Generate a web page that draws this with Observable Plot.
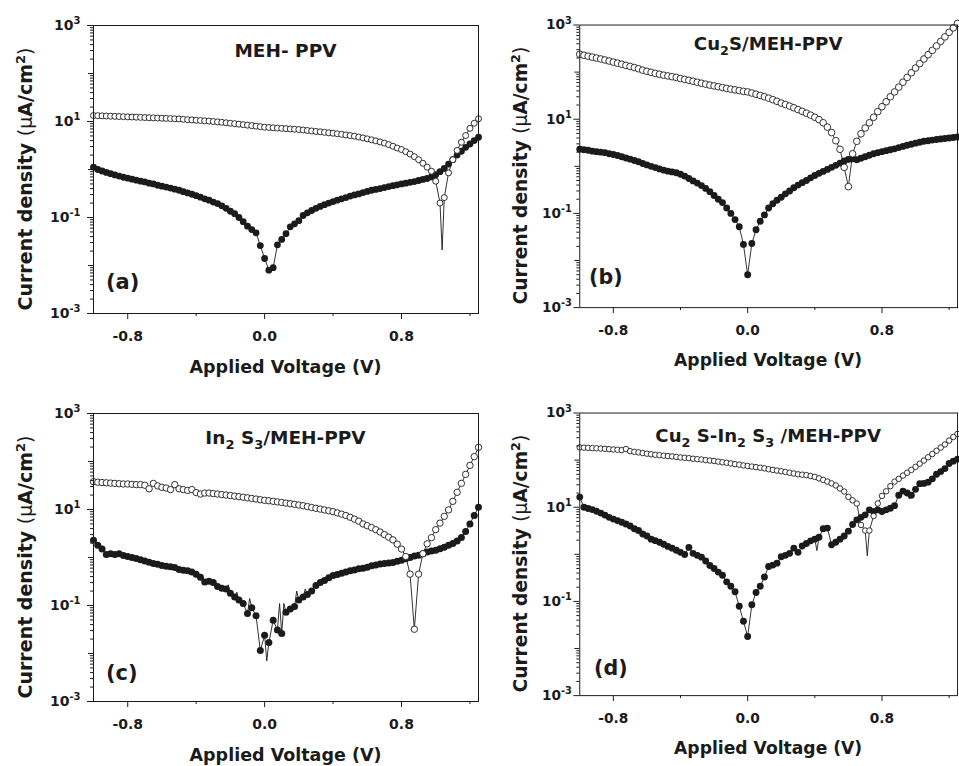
<!DOCTYPE html>
<html>
<head>
<meta charset="utf-8">
<script src="https://cdn.jsdelivr.net/npm/d3@7"></script>
<script src="https://cdn.jsdelivr.net/npm/@observablehq/plot@0.6"></script>
<style>
html, body { margin: 0; padding: 0; background: #fff; overflow: hidden; }
#wrap { position: relative; width: 959px; height: 766px; overflow: hidden; background: #fff; }
.panel { position: absolute; }
</style>
</head>
<body>
<div id="wrap"></div>
<script>
// ---- Voltage sweep (V): -1.0 V to 1.25 V in 25 mV steps ----
const voltageStart = -1.0, voltageStep = 0.025, voltageCount = 91;
const voltage = d3.range(voltageCount).map(i => +(voltageStart + i * voltageStep).toFixed(4));

// ---- Axis ticks ----
const xTicksMajor = [-0.8, 0, 0.8];
const xTicksMinor = [-0.4, 0.4, 1.2];
const yTicksLabeled = [1e-3, 1e-1, 1e1, 1e3];
const yTicksDecade = [1e-2, 1e0, 1e2];
const yTicksMinor = [-3, -2, -1, 0, 1, 2].flatMap(e => [2, 3, 4, 5, 6, 7, 8, 9].map(k => k * Math.pow(10, e)));

// ---- Current density (µA/cm²), panel (a) MEH-PPV ----
const darkA = [
  1.12,1.0,0.93,0.87,0.82,0.77,0.73,0.69,0.66,0.63,
  0.6,0.57,0.55,0.52,0.5,0.47,0.45,0.43,0.41,0.39,
  0.37,0.345,0.325,0.305,0.285,0.265,0.245,0.23,0.21,0.195,
  0.175,0.155,0.135,0.12,0.1,0.082,0.066,0.056,0.048,0.026,
  0.014,0.008,0.009,0.027,0.035,0.046,0.064,0.074,0.086,0.11,
  0.125,0.14,0.155,0.17,0.185,0.2,0.215,0.23,0.245,0.26,
  0.28,0.295,0.31,0.33,0.35,0.37,0.385,0.4,0.42,0.44,
  0.46,0.48,0.5,0.52,0.54,0.56,0.59,0.62,0.65,0.7,
  0.78,0.9,1.05,1.3,1.6,2.0,2.4,2.9,3.4,4.0,
  4.7];
const lightA = [
  13.3,13.2,13.1,13.0,12.9,12.8,12.7,12.6,12.5,12.4,
  12.3,12.2,12.1,12.0,11.9,11.8,11.7,11.6,11.5,11.4,
  11.3,11.1,10.9,10.8,10.6,10.5,10.3,10.2,10.0,9.8,
  9.6,9.4,9.2,9.0,8.8,8.6,8.4,8.2,8.0,7.8,
  7.6,7.5,7.4,7.3,7.2,7.1,7.0,6.9,6.8,6.65,
  6.5,6.35,6.2,6.1,5.95,5.8,5.7,5.55,5.4,5.25,
  5.1,4.95,4.75,4.55,4.35,4.15,3.95,3.75,3.55,3.3,
  3.05,2.8,2.6,2.35,2.1,1.85,1.6,1.35,1.12,0.92,
  0.57,0.20,0.26,0.85,1.6,2.5,3.7,5.1,7.2,9.2,
  11.4];
const darkAExtra = [];
const lightAExtra = [[1.0375, 0.021]];

// ---- panel (b) Cu2S/MEH-PPV ----
const darkB = [
  2.3,2.25,2.2,2.1,2.05,2.0,1.95,1.85,1.78,1.7,
  1.6,1.5,1.42,1.33,1.25,1.15,1.07,1.0,0.94,0.88,
  0.83,0.79,0.76,0.73,0.68,0.62,0.55,0.49,0.44,0.39,
  0.34,0.29,0.24,0.2,0.17,0.13,0.1,0.074,0.052,0.022,
  0.005,0.023,0.045,0.068,0.093,0.13,0.16,0.19,0.22,0.26,
  0.3,0.35,0.4,0.45,0.5,0.57,0.64,0.71,0.78,0.86,
  0.95,1.05,1.17,1.3,1.4,1.45,1.38,1.48,1.6,1.72,
  1.85,1.95,2.05,2.15,2.25,2.35,2.5,2.65,2.8,2.95,
  3.1,3.25,3.4,3.5,3.6,3.7,3.8,3.9,4.0,4.1,
  4.2];
const lightB = [
  240,228,218,208,199,190,181,172,163,155,
  147,139,132,125,118,110,104,99,94,90,
  86,83,80,77,73,70,67,64,61,58,
  55.5,53,51,49,47,45,43.5,42,40.5,39,
  38,36,34,32,30,28,26,24,22,20.5,
  19,17.5,16,14.7,13.4,12.2,11,9.8,8.4,6.8,
  5.2,3.5,2.3,0.95,0.37,1.85,3.4,4.9,6.5,8.4,
  11,14.5,18.5,23.5,30,38,48,61,77,97,
  122,152,190,235,290,360,450,560,700,870,
  1080];
const darkBExtra = [];
const lightBExtra = [];

// ---- panel (c) In2S3/MEH-PPV ----
const darkC = [
  2.3,1.8,1.5,1.15,1.2,1.15,1.2,1.1,1.05,1.0,
  0.95,0.9,0.85,0.8,0.75,0.72,0.68,0.66,0.64,0.62,
  0.56,0.54,0.53,0.5,0.45,0.39,0.31,0.32,0.3,0.25,
  0.23,0.22,0.18,0.15,0.13,0.11,0.068,0.09,0.061,0.0115,
  0.024,0.017,0.049,0.031,0.026,0.072,0.085,0.095,0.13,0.15,
  0.17,0.2,0.26,0.3,0.33,0.38,0.42,0.44,0.47,0.5,
  0.53,0.55,0.58,0.6,0.63,0.67,0.7,0.73,0.75,0.77,
  0.79,0.84,0.88,0.94,1.0,1.07,1.12,1.2,1.3,1.36,
  1.42,1.52,1.64,1.8,1.95,2.2,2.6,3.5,5.0,7.5,
  11.2];
const lightC = [
  38,37,36.5,36,35.5,35,34.5,34,34,33.5,
  33,33,32,27,35,31,29,28,26,33,
  27,26,25,26,22.5,21,22,22,21.5,21,
  20.5,20,19.5,19,18.5,18,17.5,17,16.5,16,
  15.5,15.2,14.8,14.4,14,13.6,13.2,12.8,12.4,12,
  11.5,11,10.6,10.2,9.8,9.4,9.0,8.5,8.0,7.5,
  6.9,6.3,5.7,5.0,4.6,4.2,3.8,3.4,3.0,2.65,
  2.33,1.9,1.5,1.05,0.45,0.032,0.45,1.2,1.93,2.6,
  3.8,5.2,7.2,9.8,14.8,22.8,35,54,83,126,
  198];
const darkCExtra = [[-0.2125,0.27],[-0.1625,0.19],[-0.0875,0.14],[0.0125,0.007],[0.0875,0.11],[0.1125,0.11],[0.1875,0.2],[0.2375,0.22]];
const lightCExtra = [];

// ---- panel (d) Cu2S-In2S3/MEH-PPV ----
const darkD = [
  16.4,10,9.4,8.9,8.2,7.5,6.8,6.1,5.6,5.2,
  4.8,4.4,4.0,3.5,3.2,2.7,2.45,2.1,1.95,1.8,
  1.64,1.47,1.35,1.22,1.1,0.99,1.4,1.05,0.95,0.87,
  0.72,0.58,0.5,0.42,0.36,0.26,0.21,0.16,0.079,0.038,
  0.018,0.085,0.155,0.21,0.33,0.55,0.59,0.65,0.89,0.95,
  1.05,1.35,1.1,1.5,1.7,1.93,2.1,2.3,3.5,3.6,
  1.6,1.8,2.1,2.45,3.1,4.3,5.4,6.1,6.9,8.8,
  8.1,8.8,8.1,8.8,9.5,10.8,18,22,20,18,
  24,31.6,32,34,40,50,57,66,85,95,
  105];
const lightD = [
  186,184,182,180,178,176,174,171,168,166,
  163,172,155,150,146,141,137,133,130,127,
  124,122,120,117,114,112,110,107,105,103,
  100,98,96,93,90,88,85,82,80,77,
  75,73,71,69,67,64,62,60,58,56,
  54,52,50,49,48,46,44,41,38,35,
  32,29,25,21.5,16.6,14,12,4.2,3.2,3.2,
  6.5,12,17.4,21.8,28,35,40,47,54,62,
  72,84,98,115,135,158,185,215,260,310,
  360];
const darkDExtra = [[0.4125, 1.2], [0.9625, 15]];
const lightDExtra = [[0.7125, 0.93]];

// ---- Texts ----
const xLabel = "Applied Voltage (V)";
const titleA = [["MEH- PPV"]];
const titleB = [["Cu"], ["2", "sub"], ["S/MEH-PPV"]];
const titleC = [["In"], ["2", "sub"], [" S"], ["3", "sub"], ["/MEH-PPV"]];
const titleD = [["Cu"], ["2", "sub"], [" S-In"], ["2", "sub"], [" S"], ["3", "sub"], [" /MEH-PPV"]];

const INK = "#1b1b1b";
const FONT = "'DejaVu Sans', 'Liberation Sans', sans-serif";

function pts(vals) {
  return vals.slice(0, voltage.length).map((j, i) => ({v: voltage[i], j}));
}
function linePts(vals, extra) {
  return pts(vals).concat(extra.map(([v, j]) => ({v, j}))).sort((a, b) => a.v - b.v);
}

const panels = [
  {left: 0,   top: 0,   dark: darkA, light: lightA, darkExtra: darkAExtra, lightExtra: lightAExtra, title: titleA, letter: "(a)",
   titleY: 57, letterX: 106, letterY: 289, rDark: 3.4, rLight: 3.0, yLabelX: 32, yPad: 7},
  {left: 488, top: 0,   dark: darkB, light: lightB, darkExtra: darkBExtra, lightExtra: lightBExtra, title: titleB, letter: "(b)",
   titleY: 51, letterX: 103, letterY: 289, rDark: 3.5, rLight: 3.4, yLabelX: 40, yPad: 2},
  {left: 0,   top: 388, dark: darkC, light: lightC, darkExtra: darkCExtra, lightExtra: lightCExtra, title: titleC, letter: "(c)",
   titleY: 56, letterX: 106, letterY: 292, rDark: 3.5, rLight: 3.2, yLabelX: 32, yPad: 7},
  {left: 488, top: 388, dark: darkD, light: lightD, darkExtra: darkDExtra, lightExtra: lightDExtra, title: titleD, letter: "(d)",
   titleY: 55, letterX: 108, letterY: 292, rDark: 3.5, rLight: 2.8, yLabelX: 40, yPad: 2}
];

const W = 480, H = 383, ML = 93, MR = 2, MT = 25, MB = 70;
const wrap = document.getElementById("wrap");

for (const p of panels) {
  const fig = Plot.plot({
    width: W, height: H,
    marginLeft: ML, marginRight: MR, marginTop: MT, marginBottom: MB,
    style: {fontFamily: FONT, fontWeight: "bold", fontSize: "14px", color: INK, background: "transparent", overflow: "visible"},
    x: {domain: [-1, 1.25]},
    y: {type: "log", domain: [1e-3, 1e3]},
    marks: [
      Plot.line(linePts(p.light, p.lightExtra), {x: "v", y: "j", stroke: INK, strokeWidth: 0.9, clip: true}),
      Plot.line(linePts(p.dark, p.darkExtra), {x: "v", y: "j", stroke: INK, strokeWidth: 0.9, clip: true}),
      Plot.dot(pts(p.dark), {x: "v", y: "j", r: p.rDark, fill: INK}),
      Plot.dot(pts(p.light), {x: "v", y: "j", r: p.rLight, fill: "white", stroke: INK, strokeWidth: 0.9}),
      Plot.frame({stroke: INK, strokeWidth: 1}),
      Plot.axisY({ticks: yTicksMinor, tickSize: 3, tickFormat: () => "", label: null}),
      Plot.axisY({ticks: yTicksDecade, tickSize: 5, tickFormat: () => "", label: null}),
      Plot.axisY({ticks: yTicksLabeled, tickSize: 6, tickPadding: p.yPad,
                  tickFormat: d => "10|" + Math.round(Math.log10(d)), label: null}),
      Plot.axisX({ticks: xTicksMinor, tickSize: 3, tickFormat: () => "", label: null}),
      Plot.axisX({ticks: xTicksMajor, tickSize: 6, tickPadding: 12, tickFormat: v => v.toFixed(1), label: null})
    ]
  });

  const div = document.createElement("div");
  div.className = "panel";
  div.style.left = p.left + "px";
  div.style.top = p.top + "px";
  div.appendChild(fig);
  wrap.appendChild(div);

  const svg = d3.select(fig);
  // superscript exponents on y tick labels
  svg.selectAll("text").each(function () {
    const t = this.textContent;
    if (t && t.indexOf("|") >= 0 && this.children.length === 0) {
      const [base, exp] = t.split("|");
      this.textContent = base;
      d3.select(this).append("tspan").attr("dy", "-0.6em").attr("font-size", "10px").text(exp);
    }
  });

  const cx = ML + (W - ML - MR) / 2;

  // panel title
  const tt = svg.append("text")
    .attr("x", cx).attr("y", p.titleY)
    .attr("text-anchor", "middle")
    .attr("font-family", FONT).attr("font-weight", "bold").attr("font-size", 18.5)
    .attr("fill", INK);
  let shifted = false;
  for (const [s, kind] of p.title) {
    const ts = tt.append("tspan").text(s);
    if (kind === "sub") {
      ts.attr("font-size", 13).attr("dy", shifted ? 0 : 5);
      shifted = true;
    } else if (shifted) {
      ts.attr("dy", -5);
      shifted = false;
    }
  }

  // panel letter
  svg.append("text")
    .attr("x", p.letterX).attr("y", p.letterY)
    .attr("text-anchor", "start")
    .attr("font-family", FONT).attr("font-weight", "bold").attr("font-size", 21)
    .attr("fill", INK).text(p.letter);

  // x label
  svg.append("text")
    .attr("x", cx).attr("y", 373)
    .attr("text-anchor", "middle")
    .attr("font-family", FONT).attr("font-weight", "bold").attr("font-size", 17.5)
    .attr("fill", INK).text(xLabel);

  // y label
  const yl = svg.append("text")
    .attr("transform", `translate(${p.yLabelX},179) rotate(-90)`)
    .attr("text-anchor", "middle")
    .attr("font-family", FONT).attr("font-weight", "bold").attr("font-size", 19)
    .attr("fill", INK);
  yl.append("tspan").text("Current density ");
  yl.append("tspan").attr("font-weight", "normal").text("(\u03bc");
  yl.append("tspan").text("A/cm");
  yl.append("tspan").attr("dy", -7).attr("font-size", 13).text("2");
  yl.append("tspan").attr("dy", 7).attr("font-weight", "normal").text(")");
}
</script>
</body>
</html>
